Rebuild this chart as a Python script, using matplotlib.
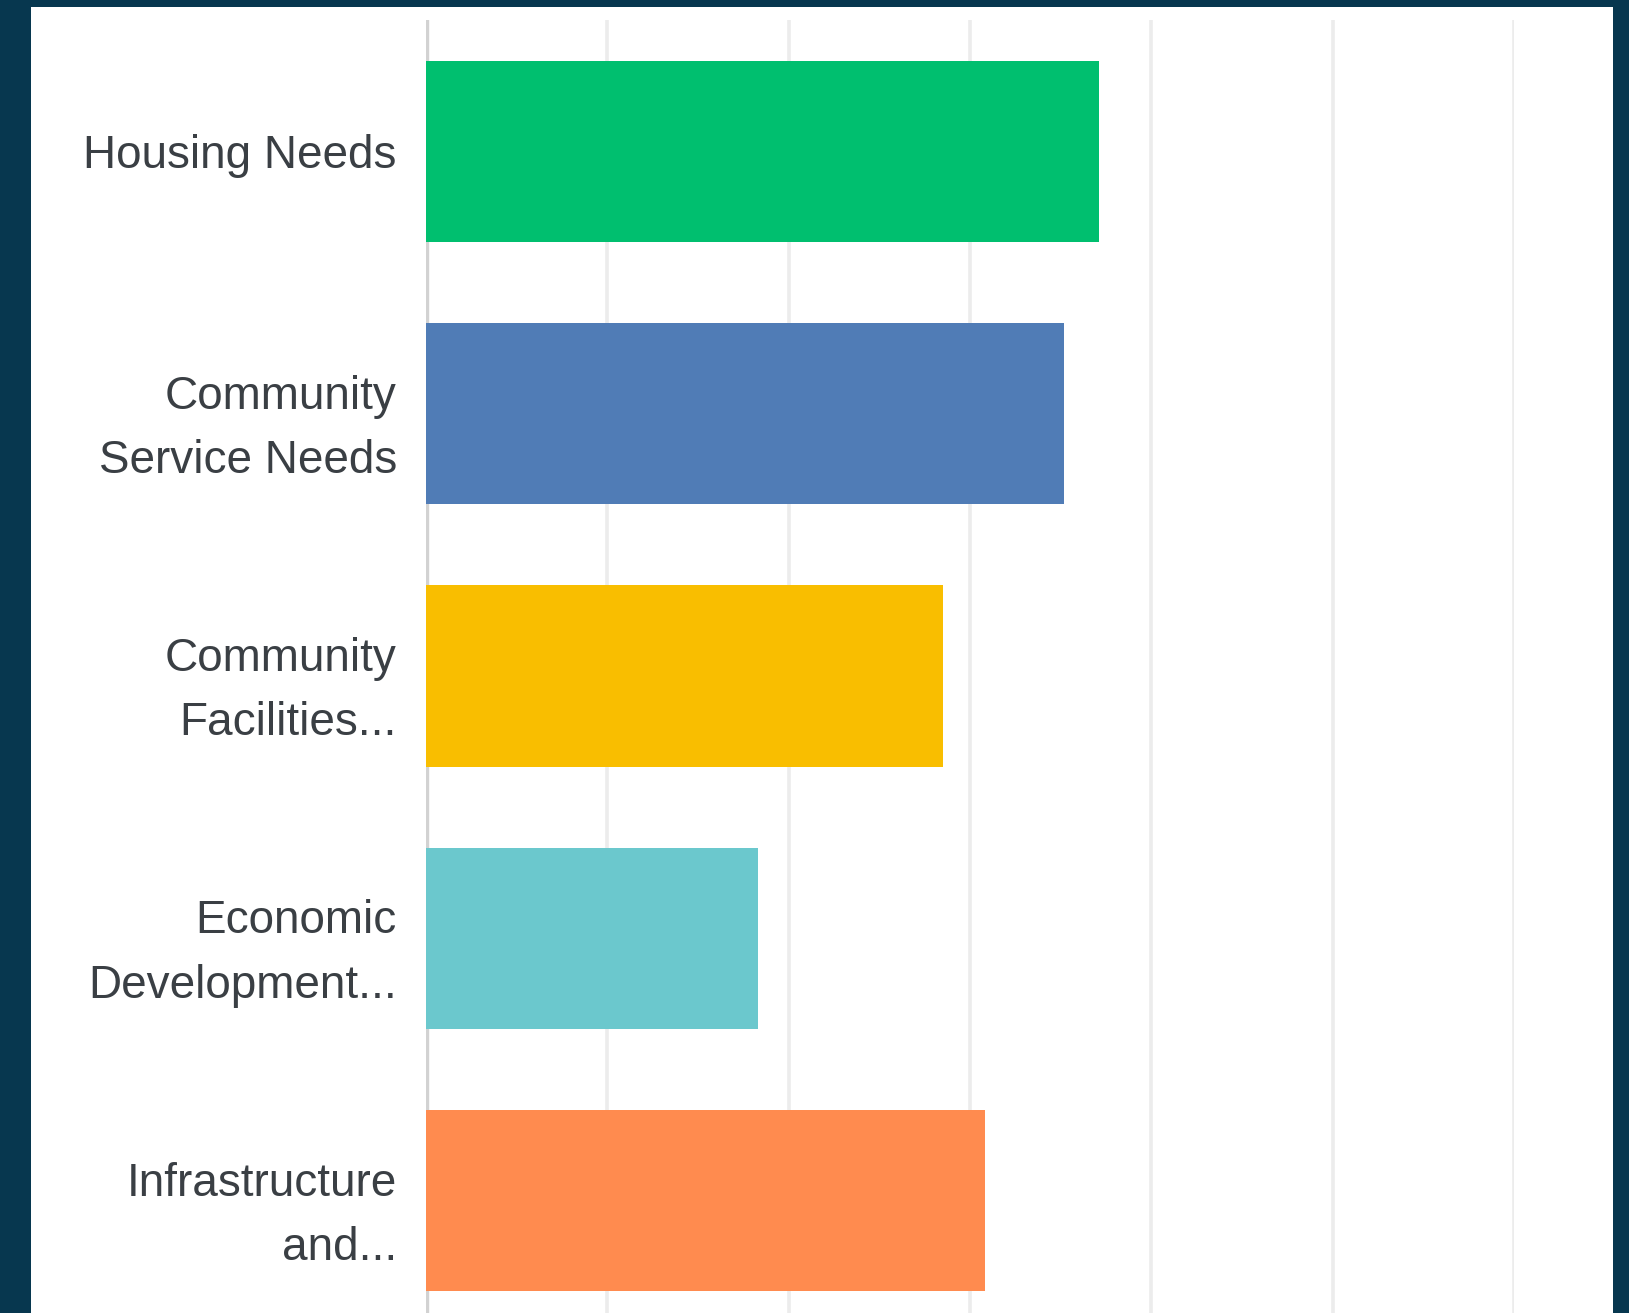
import matplotlib
matplotlib.use("Agg")
import matplotlib.pyplot as plt
from matplotlib.patches import Rectangle

categories = [
    "Housing Needs",
    "Community\nService Needs",
    "Community\nFacilities...",
    "Economic\nDevelopment...",
    "Infrastructure\nand...",
]
values = [3.71, 3.52, 2.85, 1.83, 3.08]
colors = ["#00bf6f", "#507cb6", "#f9be00", "#6bc8cd", "#ff8b4f"]
xticks = [0, 1, 2, 3, 4, 5, 6]

W, H = 1629, 1313
fig = plt.figure(figsize=(W / 100, H / 100), dpi=100, facecolor="#07374f")

# white card on the dark background
fig.patches.append(Rectangle((31 / W, 0), (1613 - 31) / W, (H - 7) / H,
                             transform=fig.transFigure, facecolor="white",
                             edgecolor="none", zorder=-10))

left, right = 426 / W, 1514 / W
top, bottom = 1 - 20 / H, -19 / H
ax = fig.add_axes([left, bottom, right - left, top - bottom])
ax.set_zorder(1)
ax.patch.set_alpha(0)

y = list(range(len(categories)))
ax.barh(y, values, height=0.69, color=colors, zorder=3)

ax.set_xlim(0, 6)
ax.set_ylim(len(categories) - 0.5, -0.5)
ax.set_xticks(xticks)
ax.xaxis.grid(True, color="#ececec", linewidth=2.6, zorder=1)
ax.set_axisbelow(True)
ax.axvline(0, color="#d2d2d2", linewidth=4.6, zorder=2)
ax.tick_params(axis="x", length=0, labelbottom=False)
ax.tick_params(axis="y", length=0, pad=21)
for s in ax.spines.values():
    s.set_visible(False)

ax.set_yticks(y)
ax.set_yticklabels(categories, fontsize=33, color="#3a3f44",
                   family=["Liberation Sans", "DejaVu Sans"],
                   linespacing=1.6)

fig.savefig("out.png", dpi=100, facecolor=fig.get_facecolor())
